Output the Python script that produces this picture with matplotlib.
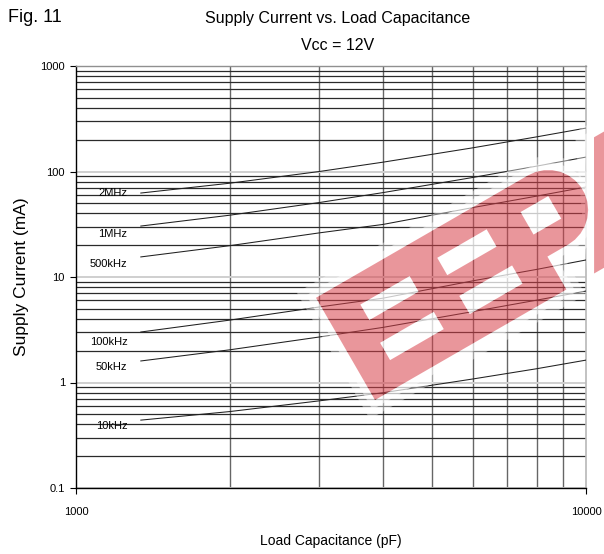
import matplotlib
matplotlib.use("Agg")
import matplotlib.pyplot as plt
import numpy as np
from matplotlib.ticker import FixedLocator, FixedFormatter, NullFormatter, LogLocator
from matplotlib.patches import PathPatch
from matplotlib.path import Path
from matplotlib.transforms import Affine2D

plt.rcParams['font.family'] = ['Liberation Sans', 'DejaVu Sans']

# ---- data ----
capacitance = [1340, 2000, 3000, 4000, 6000, 8000, 10000]
series_names = ["2MHz", "1MHz", "500kHz", "100kHz", "50kHz", "10kHz"]
i_2mhz = [62.5, 77.4, 100, 122.6, 167.7, 212.9, 258]
i_1mhz = [30.4, 38.5, 50.8, 63.1, 87.8, 112.4, 137]
i_500khz = [15.5, 19.8, 26.2, 31.5, 45.5, 58.4, 71.3]
i_100khz = [3.01, 3.9, 5.2, 6.3, 9.2, 11.8, 14.5]
i_50khz = [1.6, 2.04, 2.7, 3.33, 4.7, 6.03, 7.36]
i_10khz = [0.44, 0.53, 0.67, 0.8, 1.08, 1.35, 1.63]
series = [i_2mhz, i_1mhz, i_500khz, i_100khz, i_50khz, i_10khz]
label_y = [62.5, 25.6, 13.3, 2.42, 1.40, 0.387]
label_x = 1262
yticks = [0.1, 1, 10, 100, 1000]
ytick_labels = ["0.1", "1", "10", "100", "1000"]
xticks = [1000, 10000]
xtick_labels = ["1000", "10000"]

W, H = 604, 554
fig = plt.figure(figsize=(W / 100, H / 100), dpi=100)
ax = fig.add_axes([76 / W, (H - 488) / H, 510 / W, 422 / H])
ax.set_xscale('log')
ax.set_yscale('log')
ax.set_xlim(1000, 10000)
ax.set_ylim(0.1, 1000)

ax.yaxis.set_major_locator(FixedLocator(yticks))
ax.yaxis.set_major_formatter(FixedFormatter(ytick_labels))
ax.yaxis.set_minor_locator(LogLocator(base=10, subs=range(2, 10)))
ax.yaxis.set_minor_formatter(NullFormatter())
ax.xaxis.set_major_locator(FixedLocator(xticks))
ax.xaxis.set_major_formatter(FixedFormatter(xtick_labels))
ax.xaxis.set_minor_locator(LogLocator(base=10, subs=range(2, 10)))
ax.xaxis.set_minor_formatter(NullFormatter())

ax.grid(which='minor', axis='y', color='#2a2a2a', lw=0.9)
ax.grid(which='major', axis='y', color='#cfcfcf', lw=1.4)
ax.grid(which='minor', axis='x', color='#666666', lw=1.0)
ax.set_axisbelow(True)

ax.tick_params(which='minor', length=0)
ax.tick_params(which='major', length=4, width=0.8, direction='out', labelsize=8, colors='black')
ax.tick_params(axis='x', which='major', pad=10)
ax.tick_params(axis='y', which='major', pad=4)

for s in ['left', 'bottom']:
    ax.spines[s].set_color('black')
    ax.spines[s].set_linewidth(1.0)
ax.spines['top'].set_color('#909090')
ax.spines['top'].set_linewidth(1.0)
ax.spines['right'].set_color('#b8b8b8')
ax.spines['right'].set_linewidth(1.2)

for name, vals, ly in zip(series_names, series, label_y):
    ax.plot(capacitance, vals, color='#202020', lw=0.75, zorder=3)
    ax.text(label_x, ly, name, ha='right', va='center', fontsize=8, zorder=4)

ax.set_xlabel("Load Capacitance (pF)", fontsize=10, labelpad=12)
ax.set_ylabel("Supply Current (mA)", fontsize=12.5, labelpad=8)

fig.text(8 / W, 1 - 17 / H, "Fig. 11", fontsize=13, ha='left', va='center')
fig.text(338 / W, 1 - 18 / H, "Supply Current vs. Load Capacitance", fontsize=11.5, ha='center', va='center')
fig.text(338 / W, 1 - 45 / H, "Vcc = 12V", fontsize=11.5, ha='center', va='center')

# ---- watermark overlay (decoration, in pixel space) ----
ov = fig.add_axes([0, 0, 1, 1], zorder=10)
ov.set_xlim(0, W)
ov.set_ylim(0, H)
ov.axis('off')
ov.patch.set_alpha(0)
wm_tr = Affine2D().rotate_deg(30).translate(375, H - 400)


def ring(pts, reverse=False):
    pts = list(pts)
    if reverse:
        pts = pts[::-1]
    verts = pts + [pts[0]]
    codes = [Path.MOVETO] + [Path.LINETO] * (len(pts) - 1) + [Path.CLOSEPOLY]
    return verts, codes


def rect(a0, a1, u0, u1):
    return [(a0, u0), (a1, u0), (a1, u1), (a0, u1)]


def body(off):
    pts = [(-off, -off), (221 + off, -off), (221 + off, 38 - off)]
    cx, cy, r = 245, 78, 40 + off
    for t in np.linspace(-np.pi / 2, np.pi / 2, 16):
        pts.append((cx + r * np.cos(t), cy + r * np.sin(t)))
    pts += [(-off, 118 + off)]
    return pts


def wpart(off):
    return [(253 - off, -off), (500, -off), (500, 118 + off), (321 - off, 118 + off)]


holes = [rect(35, 92, 72, 90), rect(33, 95, 27, 47), rect(125, 182, 72, 92),
         rect(125, 186, 27, 48), rect(220, 252, 64, 90)]

verts, codes = [], []
v, c = ring(body(0))
verts += v; codes += c
for h in holes:
    v, c = ring(h, reverse=True)
    verts += v; codes += c
v, c = ring(wpart(0))
verts += v; codes += c
red_path = wm_tr.transform_path(Path(verts, codes))

for shape in (body, wpart):
    for off, al in [(14, 0.4), (7, 0.5)]:
        hv, hc = ring(shape(off))
        v2, c2 = ring(shape(0), reverse=True)
        ov.add_patch(PathPatch(wm_tr.transform_path(Path(hv + v2, hc + c2)),
                               facecolor='white', edgecolor='none', alpha=al))
for h in holes:
    v, c = ring(h)
    ov.add_patch(PathPatch(wm_tr.transform_path(Path(v, c)),
                           facecolor='white', edgecolor='none', alpha=0.75))
ov.add_patch(PathPatch(red_path, facecolor='#d8404a', edgecolor='none', alpha=0.55))

fig.savefig("out.png", dpi=100)
